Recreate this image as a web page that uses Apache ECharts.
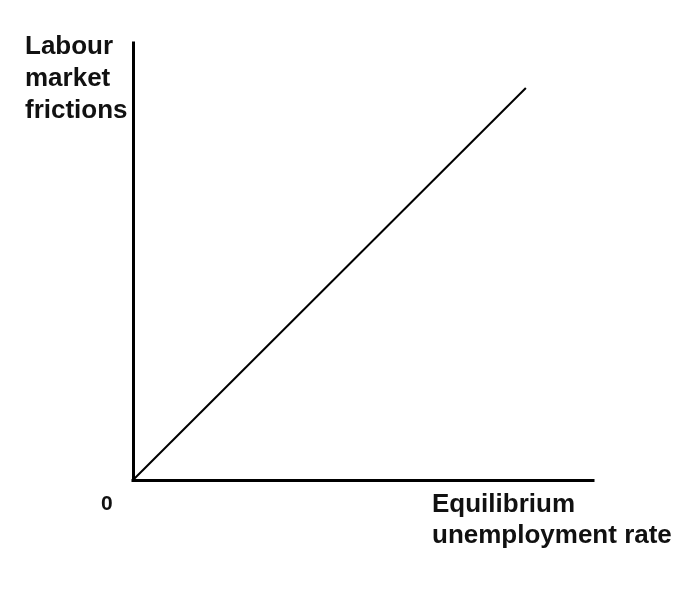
<!DOCTYPE html>
<html>
<head>
<meta charset="utf-8">
<script src="https://cdn.jsdelivr.net/npm/echarts@6/dist/echarts.min.js"></script>
<style>
html,body{margin:0;padding:0;background:#fff;}
#main{width:690px;height:590px;}
</style>
</head>
<body>
<div id="main"></div>
<script>
// Data
const xValues = [0, 85.4];
const yValues = [0, 89.7];
const yAxisTitle = 'Labour\nmarket\nfrictions';
const xAxisTitle = 'Equilibrium\nunemployment rate';
const originLabel = '0';

const chart = echarts.init(document.getElementById('main'));
const font = '"Liberation Sans", Arial, sans-serif';
chart.setOption({
  backgroundColor: '#ffffff',
  animation: false,
  grid: { left: 133, top: 43, width: 460, height: 437, containLabel: false },
  xAxis: {
    type: 'value', min: 0, max: 100,
    axisLine: { show: true, onZero: false, lineStyle: { color: '#000', width: 3, cap: 'square' } },
    axisTick: { show: false }, axisLabel: { show: false }, splitLine: { show: false }
  },
  yAxis: {
    type: 'value', min: 0, max: 100,
    axisLine: { show: true, onZero: false, lineStyle: { color: '#000', width: 3, cap: 'square' } },
    axisTick: { show: false }, axisLabel: { show: false }, splitLine: { show: false }
  },
  series: [{
    type: 'line',
    data: xValues.map((x, i) => [x, yValues[i]]),
    symbol: 'none',
    lineStyle: { color: '#000', width: 2 }
  }],
  graphic: [
    { type: 'text', left: 25, top: 31, style: { text: yAxisTitle, font: 'bold 26px ' + font, lineHeight: 32, fill: '#111' } },
    { type: 'text', left: 432, top: 489, style: { text: xAxisTitle, font: 'bold 26px ' + font, lineHeight: 31, fill: '#111' } },
    { type: 'text', left: 101, top: 494, style: { text: originLabel, font: 'bold 21px ' + font, fill: '#111' } }
  ]
});
</script>
</body>
</html>
